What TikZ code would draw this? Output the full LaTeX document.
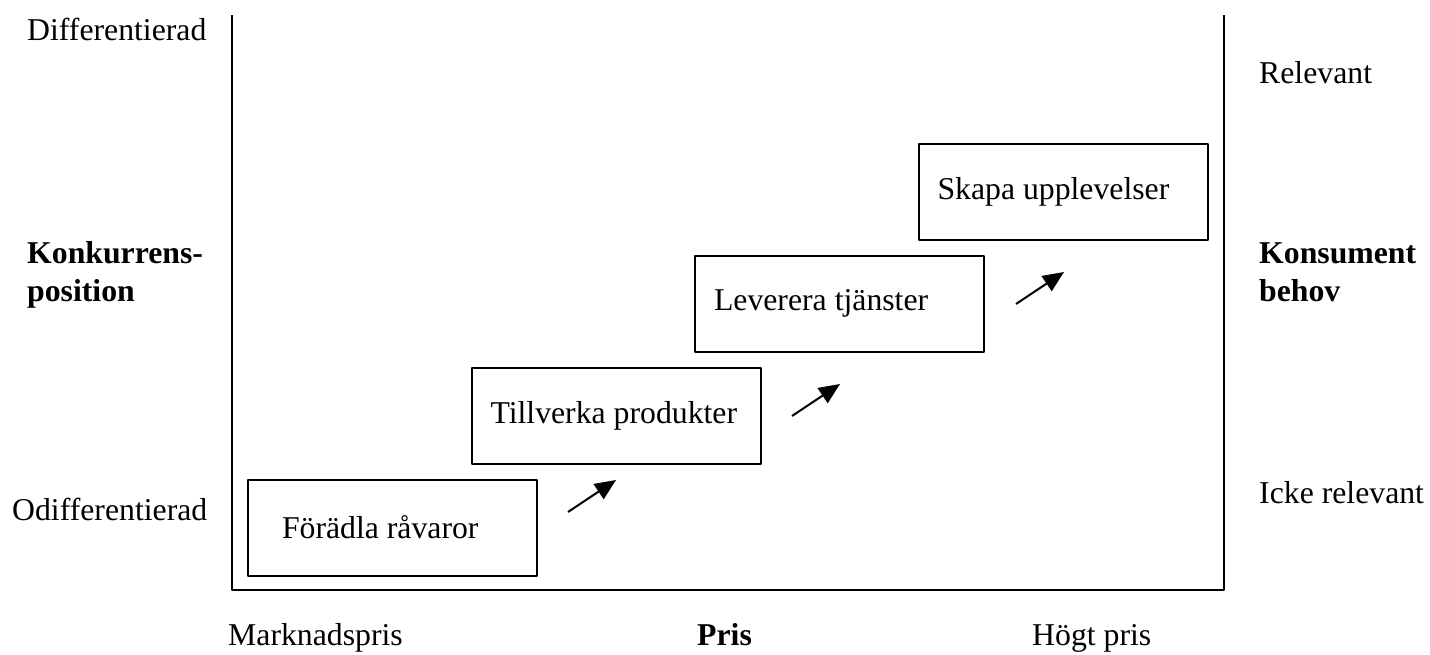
\documentclass[tikz,border=0pt]{standalone}
\usepackage{fontspec}
\setmainfont{Liberation Serif}
\usetikzlibrary{arrows.meta}
\def\txtfont{\fontsize{31.75}{38}\selectfont}
\tikzset{
  stepbox/.style={draw, line width=2pt, minimum width=289pt, minimum height=96pt, inner xsep=19pt},
  lbl/.style={anchor=base west, inner sep=0pt},
  boldlbl/.style={lbl, font=\txtfont\bfseries},
  stepin/.style={line width=2pt, ->}
}
\begin{document}
\begin{tikzpicture}[x=1pt, y=-1pt, font=\txtfont, line join=round, >={Triangle[length=21pt,width=18pt]}]
  \useasboundingbox (0,0) rectangle (1430,654);
  \def\bx{392.5}
  \def\by{527.5}
  \def\dx{223.5}
  \def\dy{112}
  \draw[line width=2.4pt] (232,15) -- (232,590) -- (1224,590) -- (1224,15);
  \foreach \i/\txt in {0/\hspace{15pt}Förädla råvaror, 1/Tillverka produkter, 2/Leverera tjänster, 3/Skapa upplevelser}
    \node[stepbox] (s\i) at ({\bx+\dx*\i},{\by-\dy*\i}) {\makebox[251pt][l]{\txt}};
  \coordinate (a0) at (568,512);
  \coordinate (b0) at (616,480);
  \coordinate (a1) at (792,416);
  \coordinate (b1) at (840,384);
  \coordinate (a2) at (1016,304);
  \coordinate (b2) at (1064,272);
  \foreach \i in {0,1,2}
    \draw[stepin] (a\i) -- (b\i);
  \node[lbl] (diff) at (27,40) {Differentierad};
  \node[boldlbl] (kp1) at (27,263) {Konkurrens-};
  \node[boldlbl] (kp2) at (27,301) {position};
  \node[lbl] (odiff) at (12,520) {Odifferentierad};
  \node[lbl] (rel) at (1259,83) {Relevant};
  \node[boldlbl] (kb1) at (1259,263) {Konsument};
  \node[boldlbl] (kb2) at (1259,301) {behov};
  \node[lbl] (irel) at (1259,503) {Icke relevant};
  \node[lbl] (mpris) at (228,645) {Marknadspris};
  \node[boldlbl] (pris) at (697,645) {Pris};
  \node[lbl] (hpris) at (1032,645) {Högt pris};
\end{tikzpicture}
\end{document}
